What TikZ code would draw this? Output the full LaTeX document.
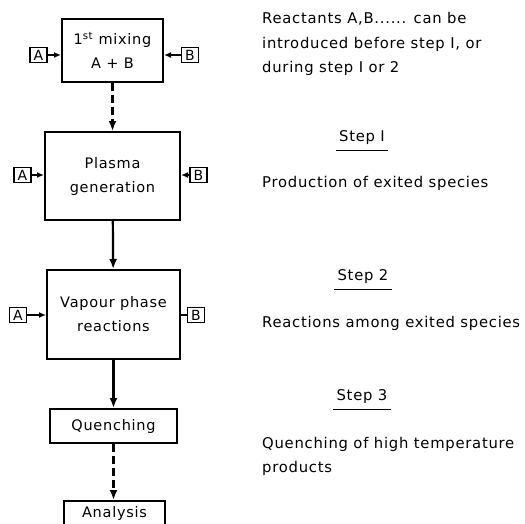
\documentclass[tikz,border=0pt]{standalone}
\usepackage{fontspec}
\setmainfont{DejaVu Sans}[LetterSpace=5]
\usetikzlibrary{arrows.meta}

\begin{document}
\begin{tikzpicture}[x=1pt,y=-1pt,
	stage/.style={draw,line width=2pt,align=center,inner sep=0pt,font=\fontsize{14.5}{24}\selectfont},
	feed/.style={draw,line width=1.8pt,minimum width=17pt,minimum height=15pt,inner sep=0pt,font=\fontsize{14}{14}\selectfont},
	flow/.style={line width=2.2pt,-{Latex[length=10pt,width=8pt]}},
	inlet/.style={line width=2pt,-{Latex[length=7pt,width=6pt]}},
	note/.style={anchor=west,align=left,inner sep=0pt,font=\fontsize{14.8}{24.5}\selectfont},
	heading/.style={inner xsep=3pt,inner ysep=5pt,font=\fontsize{14.8}{16}\selectfont}]
	\clip (0,0) rectangle (525,523);
	% process chain
	\node[stage,minimum width=101pt,minimum height=63pt](mix) at (112.5,50.5) {1\textsuperscript{st} mixing\\A + B};
	\node[stage,minimum width=135pt,minimum height=88pt](plasma) at (112.5,176) {Plasma\\generation};
	\node[stage,minimum width=133pt,minimum height=89pt](vapour) at (113.5,314.5) {Vapour phase\\reactions};
	\node[stage,minimum width=127pt,minimum height=34pt](quench) at (113.5,426) {Quenching};
	\node[stage,minimum width=101pt,minimum height=24pt](anal) at (114.5,513) {Analysis};
	\draw[flow,dash pattern=on 8pt off 4pt] (mix) -- (plasma);
	\draw[flow] (plasma) -- (vapour);
	\draw[flow] (vapour.south) -- (vapour.south |- quench.north);
	\draw[flow,dash pattern=on 8pt off 4pt] (quench.south) -- (quench.south |- anal.north);
	% reactants
	\node[feed](a1) at (38.5,55) {A};
	\node[feed](b1) at (190,55) {B};
	\node[feed](a2) at (22.5,175) {A};
	\node[feed](b2) at (198.5,175) {B};
	\node[feed](a3) at (18,315) {A};
	\node[feed](b3) at (196,315) {B};
	\draw[inlet] (a1) -- (a1 -| mix.west);
	\draw[inlet] (b1) -- (b1 -| mix.east);
	\draw[inlet] (a2) -- (a2 -| plasma.west);
	\draw[inlet] (b2) -- (b2 -| plasma.east);
	\draw[inlet] (a3) -- (a3 -| vapour.west);
	\draw[line width=2pt] (b3) -- (b3 -| vapour.east);
	% notes
	\node[note](reac) at (262,44) {Reactants A,B...... can be\\introduced before step I, or\\during step I or 2};
	\node[heading](st1) at (362,138) {Step I};
	\node[note](prod) at (262,183) {Production of exited species};
	\node[heading](st2) at (363,277) {Step 2};
	\node[note](among) at (262,323) {Reactions among exited species};
	\node[heading](st3) at (362,397) {Step 3};
	\node[note](high) at (262,456.5) {Quenching of high temperature\\products};
	\foreach \s in {st1,st2,st3}
		\draw[line width=1.2pt] (\s.south west) -- (\s.south east);
\end{tikzpicture}
\end{document}
